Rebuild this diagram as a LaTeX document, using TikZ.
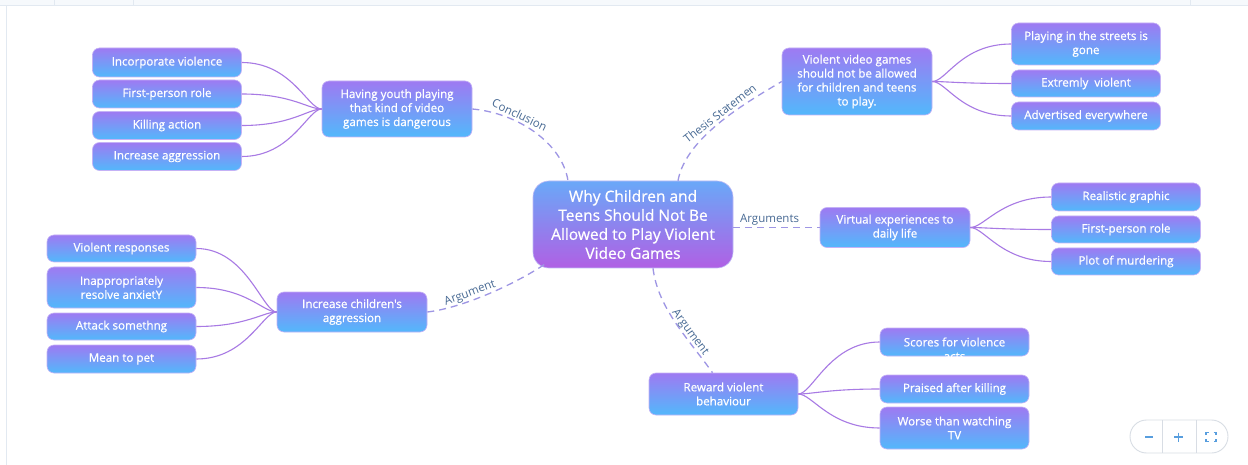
\documentclass[tikz,border=0pt]{standalone}
\usepackage{fontspec}
\setmainfont{Open Sans}
\newfontfamily\nodeface{Open Sans}[FakeBold=0.7]
\usetikzlibrary{calc}

% palette
\definecolor{leaftop}{RGB}{158,122,242}
\definecolor{leafbot}{RGB}{82,184,251}
\definecolor{leafedge}{RGB}{196,178,246}
\definecolor{roottop}{RGB}{106,168,248}
\definecolor{rootbot}{RGB}{176,96,228}
\definecolor{rootedge}{RGB}{190,186,246}
\definecolor{branch}{RGB}{168,122,228}
\definecolor{link}{RGB}{158,150,228}
\definecolor{linklabel}{RGB}{72,106,148}
\definecolor{chrome}{RGB}{226,233,241}
\definecolor{chromefill}{RGB}{246,249,252}
\definecolor{ctrlborder}{RGB}{216,221,228}
\definecolor{ctrlblue}{RGB}{88,158,222}

\newcommand{\leaffont}{\nodeface\fontsize{11.6}{14}\selectfont}
\newcommand{\rootfont}{\nodeface\fontsize{15.5}{19}\selectfont}
\newcommand{\linkfont}{\fontsize{11.5}{13}\selectfont}

\tikzset{
  leaf/.style={rectangle, rounded corners=7pt, top color=leaftop, bottom color=leafbot,
    draw=leafedge, line width=0.6pt,
    text=white, font=\leaffont, align=center, inner sep=0pt, minimum width=149pt},
  hub/.style={leaf, minimum width=150pt},
  rootbox/.style={rectangle, rounded corners=16pt, top color=roottop, bottom color=rootbot,
    draw=rootedge, line width=0.6pt,
    text=white, font=\rootfont, align=center, inner sep=0pt,
    minimum width=200pt, minimum height=87pt},
  twig/.style={draw=branch, line width=1.1pt},
  linkline/.style={draw=link, line width=1.3pt, dash pattern=on 7pt off 5pt},
  linktext/.style={text=linklabel, font=\linkfont, inner sep=2pt, sloped, above}
}

\begin{document}
\begin{tikzpicture}[x=1pt,y=-1pt]
\useasboundingbox (0,0) rectangle (1248,465);
\fill[white] (0,0) rectangle (1248,465);

% toolbar strip along the top edge
\fill[chromefill] (0,0) rectangle (1248,5.5);
\draw[chrome, line width=0.8pt] (0,5.5) -- (1248,5.5);
\foreach \xx in {54,133,1190} \draw[chrome, line width=0.8pt] (\xx,0) -- (\xx,5.5);
\draw[chrome, line width=0.8pt] (6,5.5) -- (6,465);

% central topic
\node[rootbox] (root) at (633,224.5) {Why Children and\\Teens Should Not Be\\Allowed to Play Violent\\Video Games};

% conclusion branch
\node[hub, minimum height=56pt] (concl) at (397,109) {Having youth playing\\that kind of video\\games is dangerous};
\node[leaf, minimum height=29pt] (c1) at (167,62.5) {Incorporate violence};
\node[leaf, minimum height=28pt] (c2) at (167,94) {First-person role};
\node[leaf, minimum height=28pt] (c3) at (167,125.5) {Killing action};
\node[leaf, minimum height=28pt] (c4) at (167,156.5) {Increase aggression};

% thesis branch
\node[hub, minimum height=67pt] (thesis) at (857,81.5) {Violent video games\\should not be allowed\\for children and teens\\to play.};
\node[leaf, minimum height=42pt] (t1) at (1086,44) {Playing in the streets is\\gone};
\node[leaf, minimum height=27pt] (t2) at (1086,83.5) {Extremly\ \ violent};
\node[leaf, minimum height=28pt] (t3) at (1086,116) {Advertised everywhere};

% arguments branch
\node[hub, minimum height=40pt] (virt) at (895,227.5) {Virtual experiences to\\daily life};
\node[leaf, minimum height=28pt] (v1) at (1126,197) {Realistic graphic};
\node[leaf, minimum height=27pt] (v2) at (1126,229.5) {First-person role};
\node[leaf, minimum height=27pt] (v3) at (1126,261.5) {Plot of murdering};

% aggression branch
\node[hub, minimum height=40pt] (incr) at (352,312) {Increase children's\\aggression};
\node[leaf, minimum height=27pt] (i1) at (121.5,248.5) {Violent responses};
\node[leaf, minimum height=41pt] (i2) at (121.5,287.5) {Inappropriately\\resolve anxietY};
\node[leaf, minimum height=27pt] (i3) at (121.5,326.5) {Attack somethng};
\node[leaf, minimum height=28pt] (i4) at (121.5,359) {Mean to pet};

% reward branch
\node[hub, minimum width=149pt, minimum height=42pt] (reward) at (723.5,394) {Reward violent\\behaviour};
\node[leaf, minimum height=28pt] (r1) at (954.5,342) {};
\begin{scope}
  \clip (r1.south west) rectangle (r1.north east);
  \node[text=white, font=\leaffont, align=center, inner sep=0pt] (r1text) at ($(r1.center)+(0,7)$) {Scores for violence\\acts};
\end{scope}
\node[leaf, minimum height=28pt] (r2) at (954.5,389) {Praised after killing};
\node[leaf, minimum height=42pt] (r3) at (954.5,428) {Worse than watching\\TV};

% solid twigs from each hub to its leaves
\foreach \l in {c1,c2,c3,c4}
  \path[twig] (concl.west) .. controls +(-14,0) and +(50,0) .. (\l.east);
\foreach \l in {i1,i2,i3,i4}
  \path[twig] (incr.west) .. controls +(-14,0) and +(50,0) .. (\l.east);
\foreach \l in {t1,t2,t3}
  \path[twig] (thesis.east) .. controls +(14,0) and +(-50,0) .. (\l.west);
\foreach \l in {v1,v2,v3}
  \path[twig] (virt.east) .. controls +(14,0) and +(-50,0) .. (\l.west);
\foreach \l in {r1,r2,r3}
  \path[twig] (reward.east) .. controls +(14,0) and +(-50,0) .. (\l.west);

% dashed links from the central topic
\path[linkline] (concl.east) .. controls +(45,4) and +(-6,-38) .. ($(root.north)+(-65,0)$)
  node[linktext, pos=0.34] (lconcl) {Conclusion};
\path[linkline] ($(root.north)+(45,0)$) .. controls +(8,-45) and +(-30,18) .. (thesis.west)
  node[linktext, pos=0.52] (lthesis) {Thesis Statemen};
\path[linkline] ($(root.east)+(0,3)$) -- (virt.west)
  node[linktext, pos=0.42] (largs) {Arguments};
\path[linkline] (incr.east) .. controls +(35,-4) and +(-30,20) .. ($(root.south west)+(12,-4)$)
  node[linktext, pos=0.38, inner sep=1pt] (lagg) {Argument};
\path[linkline] ($(root.south)+(20,0)$) .. controls +(5,40) and +(-25,-35) .. ($(reward.north)+(-11,0)$)
  node[linktext, pos=0.64, inner sep=0pt] (lrew) {Argument};

% zoom control in the lower right corner
\draw[ctrlborder, line width=0.9pt, rounded corners=16.5pt] (1130,420) rectangle (1228,453);
\draw[ctrlborder, line width=0.8pt] (1162,420) -- (1162,453) (1196,420) -- (1196,453);
\draw[ctrlblue, line width=1.7pt] (1145,437) -- (1153,437);
\draw[ctrlblue, line width=1.7pt] (1174,437) -- (1183,437) (1178.5,432.5) -- (1178.5,441.5);
\draw[ctrlblue, line width=1.2pt]
  (1206,435) -- (1206,432.5) -- (1208.5,432.5)
  (1213.5,432.5) -- (1216,432.5) -- (1216,435)
  (1216,439) -- (1216,441.5) -- (1213.5,441.5)
  (1208.5,441.5) -- (1206,441.5) -- (1206,439);
\end{tikzpicture}
\end{document}
